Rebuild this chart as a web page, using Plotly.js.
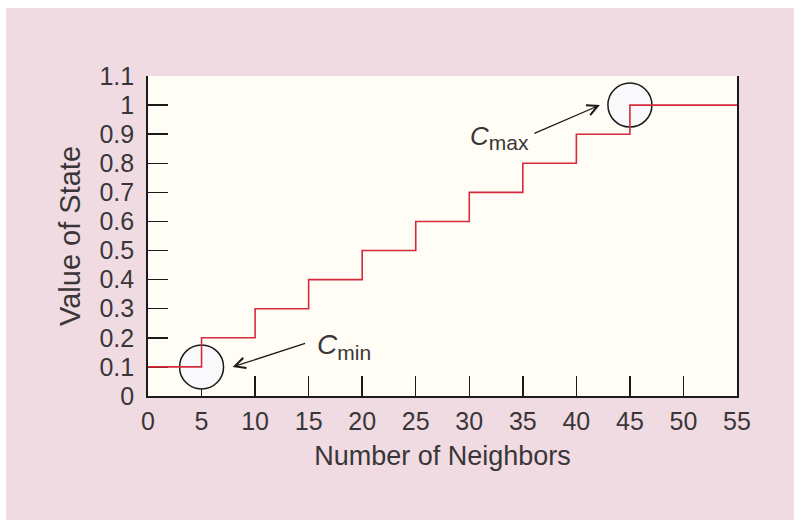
<!DOCTYPE html>
<html>
<head>
<meta charset="utf-8">
<script src="https://cdn.plot.ly/plotly-3.0.1.min.js"></script>
<style>
  html, body { margin: 0; padding: 0; background: #ffffff; }
  #chart { position: absolute; left: 6px; top: 8px; width: 788px; height: 512px; }
</style>
</head>
<body>
<div id="chart"></div>
<script>
// Data
const neighbors = [0, 5, 10, 15, 20, 25, 30, 35, 40, 45, 55];
const stateValue = [0.1, 0.2, 0.3, 0.4, 0.5, 0.6, 0.7, 0.8, 0.9, 1.0, 1.0];
const circleX = [5, 45];
const circleY = [0.1, 1.0];
const xTicks = [0, 5, 10, 15, 20, 25, 30, 35, 40, 45, 50, 55];
const yTicks = [0, 0.1, 0.2, 0.3, 0.4, 0.5, 0.6, 0.7, 0.8, 0.9, 1, 1.1];
const labelTexts = [
  '<i>C</i><sub><span style="font-size:21px">min</span></sub>',
  '<i>C</i><sub><span style="font-size:21px">max</span></sub>'
];
const arrowHeadX = [7.9, 42.2];
const arrowHeadY = [0.1, 1.0];

const textColor = '#3a3638';
const fontFam = '"Liberation Sans", Arial, Helvetica, sans-serif';

const traces = [
  {
    x: circleX, y: circleY, mode: 'markers', type: 'scatter',
    marker: { symbol: 'circle', size: 44, color: '#f9f9fb', line: { color: '#1a1a1a', width: 1.5 } },
    hoverinfo: 'skip', showlegend: false
  },
  {
    x: neighbors, y: stateValue, mode: 'lines', type: 'scatter',
    line: { shape: 'hv', color: '#d62a3c', width: 1.6 },
    showlegend: false
  }
];

const layout = {
  width: 788, height: 512,
  margin: { l: 142, r: 57, t: 68, b: 124, pad: 0 },
  paper_bgcolor: '#f0dbe3',
  plot_bgcolor: '#fffdf5',
  font: { family: fontFam, size: 26, color: textColor },
  showlegend: false,
  xaxis: {
    range: [0, 55], tickvals: xTicks, ticktext: xTicks.map(String),
    ticks: 'inside', ticklen: 20, tickwidth: 1.5, tickcolor: '#1a1a1a',
    showline: true, linecolor: '#1a1a1a', linewidth: 1.8,
    showgrid: false, zeroline: false, mirror: false,
    layer: 'below traces', ticklabelstandoff: 2,
    tickfont: { size: 25, color: textColor },
    title: { text: 'Number of Neighbors', font: { size: 27, color: textColor }, standoff: 12 },
    automargin: false, fixedrange: true
  },
  yaxis: {
    range: [0, 1.1], tickvals: yTicks, ticktext: yTicks.map(String),
    ticks: 'inside', ticklen: 20, tickwidth: 1.5, tickcolor: '#1a1a1a',
    showline: true, linecolor: '#1a1a1a', linewidth: 1.8, mirror: true,
    showgrid: false, zeroline: false,
    layer: 'below traces', ticklabelstandoff: 7,
    tickfont: { size: 25, color: textColor },
    title: { text: 'Value of State', font: { size: 29, color: textColor }, standoff: 10 },
    automargin: false, fixedrange: true
  },
  annotations: [
    { x: arrowHeadX[0], y: arrowHeadY[0], xref: 'x', yref: 'y', text: '', showarrow: true,
      ax: 74, ay: -24, arrowhead: 5, arrowsize: 1.6, arrowwidth: 1.3, arrowcolor: '#1a1a1a' },
    { x: arrowHeadX[1], y: arrowHeadY[1], xref: 'x', yref: 'y', text: '', showarrow: true,
      ax: -67, ay: 29, arrowhead: 5, arrowsize: 1.6, arrowwidth: 1.3, arrowcolor: '#1a1a1a' },
    { x: 15.6, y: 0.17, xref: 'x', yref: 'y', text: labelTexts[0], showarrow: false,
      xanchor: 'left', yanchor: 'middle', font: { size: 28, color: textColor } },
    { x: 29.9, y: 0.89, xref: 'x', yref: 'y', text: labelTexts[1], showarrow: false,
      xanchor: 'left', yanchor: 'middle', font: { size: 26, color: textColor } }
  ]
};

Plotly.newPlot('chart', traces, layout, { displayModeBar: false, staticPlot: true });
</script>
</body>
</html>
